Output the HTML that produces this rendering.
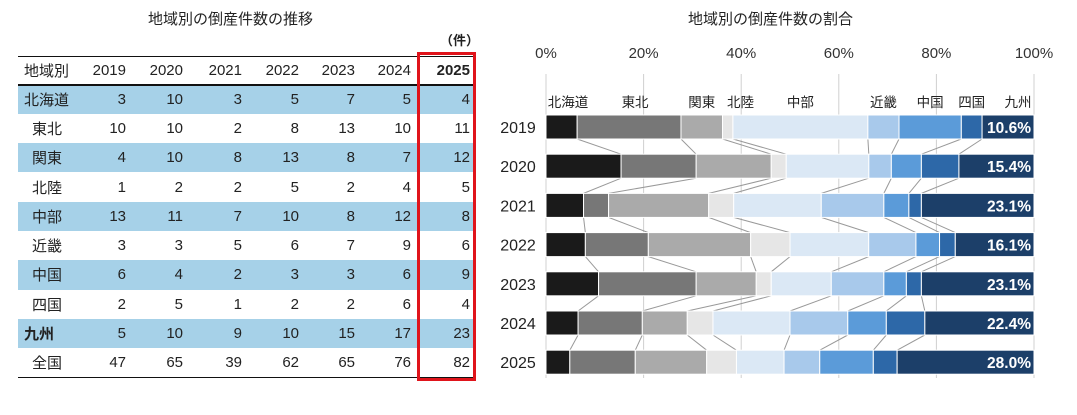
<!DOCTYPE html>
<html><head><meta charset="utf-8"><style>
body{margin:0;width:1077px;height:415px;background:#fff;font-family:"Liberation Sans","Noto Sans CJK JP",sans-serif;color:#222;position:relative;overflow:hidden}
.t{position:absolute;font-size:15px}
table{position:absolute;left:18px;top:56px;border-collapse:collapse;font-size:15px}
td{height:29.3px;padding:0 4px 0 0;text-align:right;box-sizing:border-box}
td:first-child{text-align:left;padding-left:6px;width:62px}
tr.h td{height:28px;border-bottom:2.5px solid #111}
tr.b td{background:#a6d1e8}
tr.last td{border-bottom:1.5px solid #111}
</style></head><body>
<div class="t" style="left:148px;top:8px">地域別の倒産件数の推移</div>
<div class="t" style="left:440px;top:30px;font-size:13px;font-weight:bold">（件）</div>
<table style="border-top:1.5px solid #111">
<colgroup><col style="width:62px"><col style="width:50px"><col style="width:57px"><col style="width:59px"><col style="width:57px"><col style="width:56px"><col style="width:56px"><col style="width:59px"></colgroup>
<tbody id="tb"></tbody></table>
<div style="position:absolute;left:417px;top:52px;width:53px;height:323px;border:3px solid #e0141b"></div>
<div class="t" style="left:688px;top:8px">地域別の倒産件数の割合</div>
<svg id="ch" width="1077" height="415" style="position:absolute;left:0;top:0"></svg>
<script>
const regions=['北海道','東北','関東','北陸','中部','近畿','中国','四国','九州'];
const years=['2019','2020','2021','2022','2023','2024','2025'];
const counts=[[3,10,3,5,7,5,4],[10,10,2,8,13,10,11],[4,10,8,13,8,7,12],[1,2,2,5,2,4,5],[13,11,7,10,8,12,8],[3,3,5,6,7,9,6],[6,4,2,3,3,6,9],[2,5,1,2,2,6,4],[5,10,9,10,15,17,23]];
const totals=[47,65,39,62,65,76,82];
const ticks=['0%','20%','40%','60%','80%','100%'];
const colors=['#1a1a1a','#777777','#aaaaaa','#e6e6e6','#dbe8f5','#a8c9eb','#5b9bd9','#2d68a8','#1c3f69'];
const labelShift=[0,6,0,0,0,0,0,0,-2];
const tb=document.getElementById('tb');
let h='<tr class="h"><td>地域別</td>'+years.map((y,i)=>'<td'+(i==6?' style="font-weight:bold"':'')+'>'+y+'</td>').join('')+'</tr>';
regions.forEach((r,i)=>{h+='<tr class="'+(i%2==0?'b':'')+'"><td'+(i==8?' style="font-weight:bold"':(r.length==2?' style="padding-left:14px"':''))+'>'+r+'</td>'+counts[i].map(v=>'<td>'+v+'</td>').join('')+'</tr>';});
h+='<tr class="last"><td style="padding-left:14px">全国</td>'+totals.map(v=>'<td>'+v+'</td>').join('')+'</tr>';
tb.innerHTML=h;
const svg=document.getElementById('ch');const NS='http://www.w3.org/2000/svg';
const x0=546,x1=1034,y0=115,step=39.2,bh=24;
const X=p=>x0+(x1-x0)*p;const Y=i=>y0+i*step;
function mk(t,a,txt){const e=document.createElementNS(NS,t);for(const k in a)e.setAttribute(k,a[k]);if(txt!=null)e.textContent=txt;svg.appendChild(e);return e;}
ticks.forEach((t,i)=>{const p=i/(ticks.length-1);
const g=mk('line',{x1:X(p),x2:X(p),y1:74,y2:378,stroke:'#d0d0d0'});

const l=mk('text',{x:X(p),y:58,'text-anchor':'middle','font-size':15,fill:'#333'},t);
});
const cum=years.map((y,j)=>{let c=[0];let s=0;regions.forEach((r,i)=>{s+=counts[i][j];c.push(s/totals[j]);});return c;});
years.forEach((y,j)=>{
 if(j<years.length-1){for(let k=1;k<regions.length;k++){const c=mk('line',{x1:X(cum[j][k]),y1:Y(j)+bh,x2:X(cum[j+1][k]),y2:Y(j+1),stroke:'#999','stroke-width':1});
 }}
 regions.forEach((r,i)=>{const a=cum[j][i],b=cum[j][i+1];
 const rc=mk('rect',{x:X(a),y:Y(j),width:X(b)-X(a),height:bh,fill:colors[i],stroke:'#fff','stroke-width':1});
 });
 const yl=mk('text',{x:518,y:Y(j)+bh/2+6,'text-anchor':'middle','font-size':16,fill:'#222'},y);
 
 const k=counts[8][j]/totals[j];
 const vl=mk('text',{x:X(1)-3,y:Y(j)+bh/2+6,'text-anchor':'end','font-size':15.5,'font-weight':'bold',fill:'#fff'},(k*100).toFixed(1)+'%');
 
});
regions.forEach((r,i)=>{const m=(cum[0][i]+cum[0][i+1])/2;let x=X(m);if(i==0)x=X(cum[0][0])+22;if(i==3)x=X(cum[0][3])+18;if(i==8)x=X(1)-14;x+=labelShift[i];
const t=mk('text',{x:x,y:107,'text-anchor':'middle','font-size':13.5,fill:'#222'},r);
});
</script>
</body></html>
